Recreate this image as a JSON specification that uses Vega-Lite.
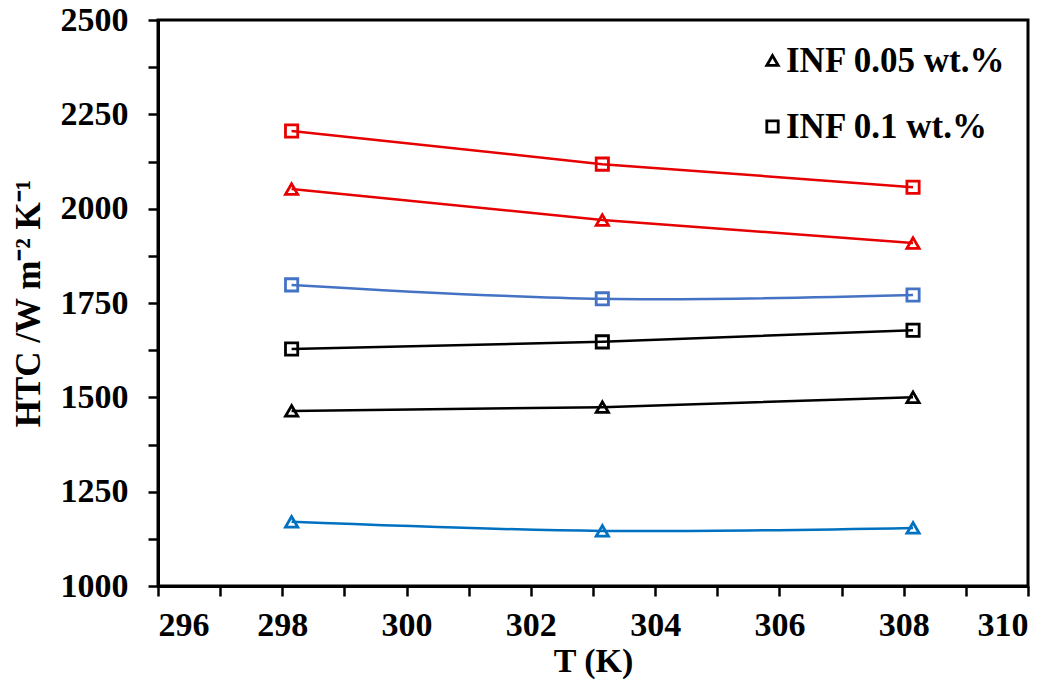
{
  "$schema": "https://vega.github.io/schema/vega-lite/v6.json",
  "width": 870,
  "height": 566,
  "autosize": "none",
  "padding": {"left": 158, "top": 20, "right": 34, "bottom": 99},
  "background": "white",
  "config": {
    "view": {"stroke": "black", "strokeWidth": 3},
    "font": "Liberation Serif"
  },
  "data": {
    "values": [
      {"series": "red_sq", "conc": "INF 0.1 wt.%", "T": 298.15, "HTC": 2206},
      {"series": "red_sq", "conc": "INF 0.1 wt.%", "T": 303.15, "HTC": 2118},
      {"series": "red_sq", "conc": "INF 0.1 wt.%", "T": 308.15, "HTC": 2057},
      {"series": "red_tri", "conc": "INF 0.05 wt.%", "T": 298.15, "HTC": 2052},
      {"series": "red_tri", "conc": "INF 0.05 wt.%", "T": 303.15, "HTC": 1970},
      {"series": "red_tri", "conc": "INF 0.05 wt.%", "T": 308.15, "HTC": 1909},
      {"series": "blue_sq", "conc": "INF 0.1 wt.%", "T": 298.15, "HTC": 1798},
      {"series": "blue_sq", "conc": "INF 0.1 wt.%", "T": 303.15, "HTC": 1761},
      {"series": "blue_sq", "conc": "INF 0.1 wt.%", "T": 308.15, "HTC": 1771},
      {"series": "black_sq", "conc": "INF 0.1 wt.%", "T": 298.15, "HTC": 1628},
      {"series": "black_sq", "conc": "INF 0.1 wt.%", "T": 303.15, "HTC": 1647},
      {"series": "black_sq", "conc": "INF 0.1 wt.%", "T": 308.15, "HTC": 1678},
      {"series": "black_tri", "conc": "INF 0.05 wt.%", "T": 298.15, "HTC": 1464},
      {"series": "black_tri", "conc": "INF 0.05 wt.%", "T": 303.15, "HTC": 1474},
      {"series": "black_tri", "conc": "INF 0.05 wt.%", "T": 308.15, "HTC": 1500},
      {"series": "blue_tri", "conc": "INF 0.05 wt.%", "T": 298.15, "HTC": 1170},
      {"series": "blue_tri", "conc": "INF 0.05 wt.%", "T": 303.15, "HTC": 1146},
      {"series": "blue_tri", "conc": "INF 0.05 wt.%", "T": 308.15, "HTC": 1154}
    ]
  },
  "encoding": {
    "x": {
      "field": "T", "type": "quantitative",
      "scale": {"domain": [296, 310], "nice": false, "zero": false},
      "axis": {
        "title": "T (K)",
        "values": [296, 297, 298, 299, 300, 301, 302, 303, 304, 305, 306, 307, 308, 309, 310],
        "labelExpr": "datum.value % 2 == 0 ? datum.label : ''",
        "grid": false,
        "domainColor": "black", "domainWidth": 3,
        "tickColor": "black", "tickWidth": 2.5, "tickSize": 10,
        "labelFont": "Liberation Serif", "labelFontWeight": "bold", "labelFontSize": 34, "labelColor": "black",
        "labelPadding": 12,
        "titleFont": "Liberation Serif", "titleFontWeight": "bold", "titleFontSize": 34, "titleColor": "black",
        "titlePadding": 2
      }
    },
    "y": {
      "field": "HTC", "type": "quantitative",
      "scale": {"domain": [1000, 2500], "nice": false, "zero": false},
      "axis": {
        "title": "HTC /W m⁻² K⁻¹",
        "values": [1000, 1125, 1250, 1375, 1500, 1625, 1750, 1875, 2000, 2125, 2250, 2375, 2500],
        "labelExpr": "datum.value % 250 == 0 ? datum.label : ''",
        "format": "d",
        "grid": false,
        "domainColor": "black", "domainWidth": 3,
        "tickColor": "black", "tickWidth": 2.5, "tickSize": 10,
        "labelFont": "Liberation Serif", "labelFontWeight": "bold", "labelFontSize": 34, "labelColor": "black",
        "labelPadding": 20,
        "titleFont": "Liberation Serif", "titleFontWeight": "bold", "titleFontSize": 35, "titleColor": "black",
        "titlePadding": 14
      }
    }
  },
  "layer": [
    {
      "transform": [{"filter": "datum.series == 'red_sq' || datum.series == 'red_tri' || datum.series == 'black_sq' || datum.series == 'black_tri'"}],
      "mark": {"type": "line", "strokeWidth": 2.5},
      "encoding": {
        "color": {
          "field": "series", "type": "nominal", "legend": null,
          "scale": {"domain": ["red_sq", "red_tri", "blue_sq", "black_sq", "black_tri", "blue_tri"],
                    "range": ["#e60000", "#e60000", "#4472c4", "#000000", "#000000", "#0070c0"]}
        },
        "detail": {"field": "series"}
      }
    },
    {
      "transform": [{"filter": "datum.series == 'blue_sq' || datum.series == 'blue_tri'"}],
      "mark": {"type": "line", "strokeWidth": 2.5, "interpolate": "catmull-rom"},
      "encoding": {
        "color": {"field": "series", "type": "nominal", "legend": null},
        "detail": {"field": "series"}
      }
    },
    {
      "mark": {"type": "point", "filled": false, "strokeWidth": 2.8, "size": 150, "opacity": 1},
      "encoding": {
        "color": {"field": "series", "type": "nominal", "legend": null},
        "shape": {
          "field": "conc", "type": "nominal",
          "scale": {"domain": ["INF 0.05 wt.%", "INF 0.1 wt.%"], "range": ["triangle-up", "square"]},
          "legend": {
            "title": null,
            "orient": "none",
            "legendX": 597,
            "legendY": 23,
            "symbolSize": 130,
            "symbolStrokeColor": "black",
            "symbolStrokeWidth": 2.8,
            "labelFont": "Liberation Serif",
            "labelFontWeight": "bold",
            "labelFontSize": 35,
            "labelColor": "black",
            "labelOffset": -4,
            "rowPadding": 30,
            "labelLimit": 400
          }
        }
      }
    }
  ]
}
